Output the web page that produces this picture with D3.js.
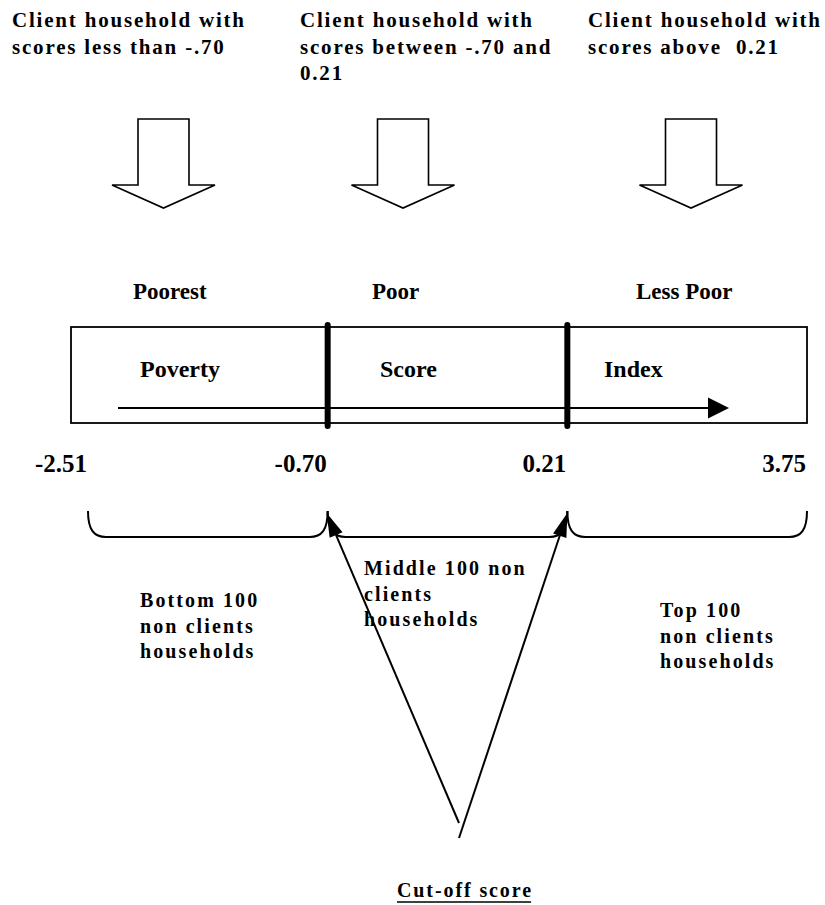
<!DOCTYPE html>
<html><head><meta charset="utf-8">
<script src="https://cdn.jsdelivr.net/npm/d3@7"></script>
<style>
body{margin:0;background:#fff}
svg{display:block}
text{font-family:"Liberation Serif","Times New Roman",serif;font-weight:bold;fill:#000;white-space:pre}
</style>
</head><body>
<svg id="c" width="825" height="905"></svg>
<script>
// ---- data ----
const cutoffs = ["-2.51", "-0.70", "0.21", "3.75"];
const groups = ["Poorest", "Poor", "Less Poor"];
const indexWords = ["Poverty", "Score", "Index"];
const clientLabels = [
  ["Client household with", "scores less than -.70"],
  ["Client household with", "scores between -.70 and", "0.21"],
  ["Client household with", "scores above  0.21"]
];
const nonClientLabels = [
  ["Bottom 100", "non clients", "households"],
  ["Middle 100 non", "clients", "households"],
  ["Top 100", "non clients", "households"]
];
const cutoffTitle = "Cut-off score";

// ---- layout ----
const svg = d3.select("#c");
const x = d3.scalePoint().domain(cutoffs).range([88, 807]);

const topTextX = [12, 300, 588];
const arrowCX = [163.5, 403, 691];
const groupX = [133, 372, 636];
const wordX = [140, 380, 604];
const bottomX = [140, 364, 660];
const bottomY = [607, 575, 617];

// top client labels
clientLabels.forEach((lines, i) => {
  const t = svg.append("text").style("font-size", "21px").style("letter-spacing", "1.8px");
  lines.forEach((l, j) => t.append("tspan").attr("x", topTextX[i]).attr("y", 27 + j * 26.5).text(l));
});

// hollow block arrows
const shaftW = 25.5, headW = 51.5, arTop = 119, arSh = 185, arTip = 208;
svg.selectAll("path.block").data(arrowCX).join("path").attr("class", "block")
  .attr("d", c => `M${c - shaftW},${arTop} L${c + shaftW},${arTop} L${c + shaftW},${arSh} L${c + headW},${arSh} L${c},${arTip} L${c - headW},${arSh} L${c - shaftW},${arSh} Z`)
  .attr("fill", "#fff").attr("stroke", "#000").attr("stroke-width", 1.6).attr("stroke-linejoin", "miter");

// group labels
svg.selectAll("text.grp").data(groups).join("text").attr("class", "grp")
  .attr("x", (d, i) => groupX[i]).attr("y", 299).style("font-size", "23px").text(d => d);

// box
const boxL = 71, boxT = 327, boxB = 423;
svg.append("rect").attr("x", boxL).attr("y", boxT).attr("width", x(cutoffs[3]) - boxL).attr("height", boxB - boxT)
  .attr("fill", "none").attr("stroke", "#000").attr("stroke-width", 1.8);

svg.selectAll("text.word").data(indexWords).join("text").attr("class", "word")
  .attr("x", (d, i) => wordX[i]).attr("y", 377).style("font-size", "24px").text(d => d);

// inner arrow
svg.append("line").attr("x1", 118).attr("x2", 710).attr("y1", 408).attr("y2", 408)
  .attr("stroke", "#000").attr("stroke-width", 2);
svg.append("path").attr("d", "M708,397.5 L729,408 L708,418.5 Z").attr("fill", "#000");

// dividers
svg.selectAll("line.div").data(cutoffs.slice(1, 3)).join("line").attr("class", "div")
  .attr("x1", d => x(d)).attr("x2", d => x(d)).attr("y1", 325).attr("y2", 426)
  .attr("stroke", "#000").attr("stroke-width", 6).attr("stroke-linecap", "round");

// tick labels
svg.selectAll("text.tick").data(cutoffs).join("text").attr("class", "tick")
  .attr("x", d => x(d) - 1).attr("y", 472).attr("text-anchor", "end").style("font-size", "25px").text(d => d);

// braces
const bt = 511, bb = 537;
const segs = d3.range(groups.length).map(i => [x(cutoffs[i]), x(cutoffs[i + 1])]);
svg.selectAll("path.brace").data(segs).join("path").attr("class", "brace")
  .attr("d", ([a, b]) => `M${a},${bt} C${a},${bb - 7} ${a + 6},${bb} ${a + 18},${bb} L${b - 18},${bb} C${b - 6},${bb} ${b},${bb - 7} ${b},${bt}`)
  .attr("fill", "none").attr("stroke", "#000").attr("stroke-width", 2);

// non-client labels
nonClientLabels.forEach((lines, i) => {
  const t = svg.append("text").style("font-size", "20px").style("letter-spacing", "2.1px");
  lines.forEach((l, j) => t.append("tspan").attr("x", bottomX[i]).attr("y", bottomY[i] + j * 25.5).text(l));
});

// cut-off arrows
function arrow(x1, y1, x2, y2) {
  const L = 24, W = 7;
  const dx = x2 - x1, dy = y2 - y1, len = Math.hypot(dx, dy);
  const ux = dx / len, uy = dy / len;
  const bx = x2 - ux * L, by = y2 - uy * L;
  svg.append("line").attr("x1", x1).attr("y1", y1).attr("x2", bx).attr("y2", by)
    .attr("stroke", "#000").attr("stroke-width", 2);
  svg.append("path").attr("d", `M${x2},${y2} L${bx - uy * W},${by + ux * W} L${bx + uy * W},${by - ux * W} Z`).attr("fill", "#000");
}
arrow(459, 823, x(cutoffs[1]) - 1, 513);
arrow(459, 838, x(cutoffs[2]), 513);

// cut-off title
const ct = svg.append("text").attr("x", 397).attr("y", 897).style("font-size", "20px").style("letter-spacing", "1.9px").text(cutoffTitle);
const w = ct.node().getComputedTextLength();
svg.append("line").attr("x1", 397).attr("x2", 397 + w - 1.9).attr("y1", 902).attr("y2", 902)
  .attr("stroke", "#000").attr("stroke-width", 1.6);
</script>
</body></html>
